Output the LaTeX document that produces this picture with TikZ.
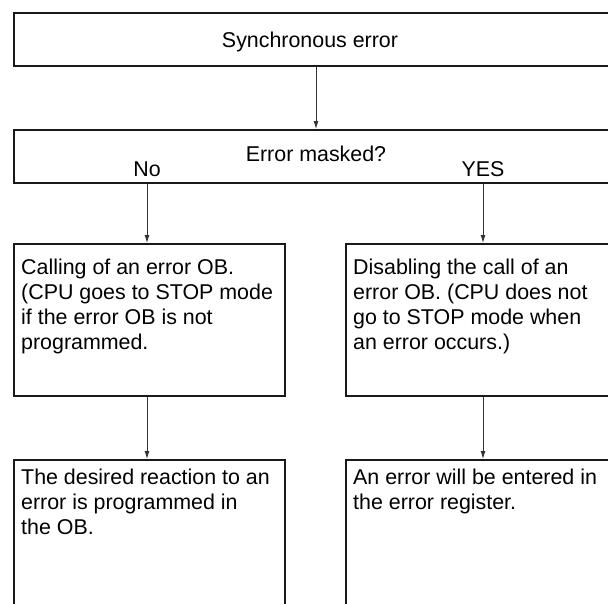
\documentclass[tikz,border=0pt]{standalone}
\usepackage{fontspec}
\setmainfont{Liberation Sans}
\usetikzlibrary{arrows.meta,positioning}

\newcommand{\boxfont}{\fontsize{21.4}{25}\selectfont}

\begin{document}
\begin{tikzpicture}[
    x=1pt, y=-1pt,
    >={Latex[length=8pt,width=5pt]},
    framebox/.style={
        draw=black!90,
        line width=1.7pt,
        anchor=north west,
        inner sep=0pt,
        minimum width=#1
    },
    boxtext/.style={
        inner sep=0pt,
        align=left,
        font=\boxfont
    },
    label/.style={
        inner sep=0pt,
        anchor=base,
        font=\boxfont
    },
    line/.style={->, line width=0.9pt, draw=black!80}
]
    \useasboundingbox (0,0) rectangle (608,603);
    \clip (0,0) rectangle (608,603);

    % frames (right and lower edges run off the page)
    \node[framebox=720pt, minimum height=53pt] (sync) at (13,12) {};
    \node[framebox=720pt, minimum height=53pt] (mask) at (13,129) {};
    \node[framebox=271pt, minimum height=152pt] (call) at (13,243) {};
    \node[framebox=400pt, minimum height=152pt] (disable) at (345,243) {};
    \node[framebox=271pt, minimum height=200pt] (react) at (13,459) {};
    \node[framebox=400pt, minimum height=200pt] (register) at (345,459) {};

    % texts
    \node[label] (synctxt) at (310,47) {Synchronous error};
    \node[label] (masktxt) at (316,161) {Error masked?};
    \node[label] (notxt) at (147,176) {No};
    \node[label] (yestxt) at (483,176) {YES};

    \node[boxtext, below right=16pt and 8pt of call.north west] (calltxt)
        {Calling of an error OB.\\(CPU goes to STOP mode\\if the error OB is not\\programmed.};
    \node[boxtext, below right=16pt and 8pt of disable.north west] (disabletxt)
        {Disabling the call of an\\error OB. (CPU does not\\go to STOP mode when\\an error occurs.)};
    \node[boxtext, below right=10pt and 8pt of react.north west] (reacttxt)
        {The desired reaction to an\\error is programmed in\\the OB.};
    \node[boxtext, below right=10pt and 8pt of register.north west] (registertxt)
        {An error will be entered in\\the error register.};

    % arrows
    \draw[line] (masktxt |- sync.south) -- (masktxt |- mask.north);
    \draw[line] (notxt |- mask.south) -- (notxt |- call.north);
    \draw[line] (yestxt |- mask.south) -- (yestxt |- disable.north);
    \draw[line] (notxt |- call.south) -- (notxt |- react.north);
    \draw[line] (yestxt |- disable.south) -- (yestxt |- register.north);
\end{tikzpicture}
\end{document}
